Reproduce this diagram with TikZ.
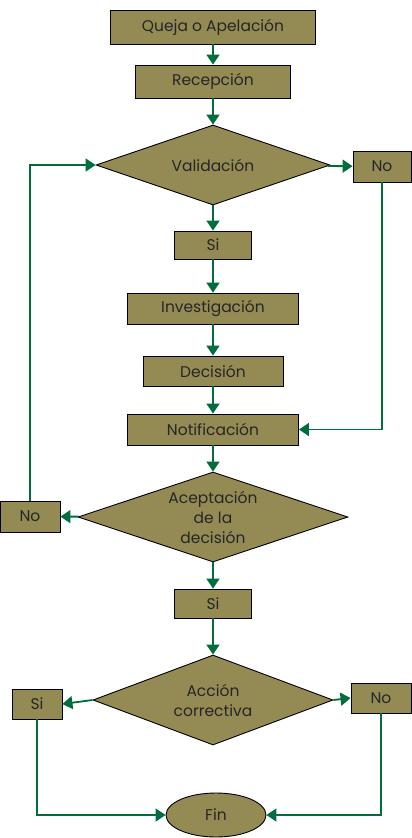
\documentclass[tikz,border=0pt]{standalone}
\usepackage{fontspec}
\setmainfont{Poppins}
\usetikzlibrary{positioning,shapes.geometric,arrows.meta}
\definecolor{olivefill}{HTML}{948A54}
\definecolor{flowgreen}{HTML}{006E3C}
\definecolor{txtgray}{HTML}{262626}
\tikzset{proc/.style={draw=black,line width=0.9pt,fill=olivefill,rectangle,inner sep=0pt,
    text=txtgray,node font=\fontsize{15.5}{19}\selectfont}}
\tikzset{deci/.style={proc,diamond}}
\tikzset{dtext/.style={inner sep=0pt,align=center,text=txtgray,font=\fontsize{15.5}{20}\selectfont}}
\tikzset{term/.style={proc,ellipse}}
\tikzset{flow/.style={draw=flowgreen,line width=1.8pt,-{Triangle[length=10pt,width=13pt]}}}

\begin{document}
\begin{tikzpicture}[on grid,every node/.style={scale=1}]
  \useasboundingbox (0,0) rectangle (412pt,-838pt);

  \node[proc,minimum width=205pt,minimum height=34pt] (queja) at (213pt,-27pt) {Queja o Apelación};
  \node[proc,minimum width=155pt,minimum height=33pt] (recep) [below=54.5pt of queja] {Recepción};
  \node[deci,minimum width=234pt,minimum height=80pt,
    label={[dtext]center:Validación}] (valid) [below=83.5pt of recep] {};
  \node[proc,minimum width=58pt,minimum height=31pt] (no_a) at (382pt,-166.5pt) {No};
  \node[proc,minimum width=77pt,minimum height=28pt] (si_a) [below=80pt of valid] {Si};
  \node[proc,minimum width=171pt,minimum height=31pt] (invest) [below=63.5pt of si_a] {Investigación};
  \node[proc,minimum width=140pt,minimum height=30pt] (decis) [below=62.5pt of invest] {Decisión};
  \node[proc,minimum width=171pt,minimum height=31pt] (notif) [below=58.5pt of decis] {Notificación};
  \node[deci,minimum width=270pt,minimum height=90pt,
    label={[dtext]center:Aceptación\\de la\\decisión}] (acept) [below=87.5pt of notif] {};
  \node[proc,minimum width=60pt,minimum height=31pt] (no_b) at (30pt,-516.5pt) {No};
  \node[proc,minimum width=77pt,minimum height=29pt] (si_b) [below=86.5pt of acept] {Si};
  \node[deci,minimum width=240pt,minimum height=90pt,
    label={[dtext]center:Acción\\correctiva}] (accion) [below=96.5pt of si_b] {};
  \node[proc,minimum width=50pt,minimum height=30pt] (si_c) at (37pt,-704pt) {Si};
  \node[proc,minimum width=60pt,minimum height=30pt] (no_c) at (381pt,-698pt) {No};
  \node[term,minimum width=100pt,minimum height=44pt] (fin) at (216pt,-815pt) {Fin};

  \draw[flow] (queja) -- (recep);
  \draw[flow] (recep) -- (valid);
  \draw[flow] (valid) -- (no_a);
  \draw[flow] (no_a.south) |- (notif.east);
  \draw[flow] (valid) -- (si_a);
  \draw[flow] (si_a) -- (invest);
  \draw[flow] (invest) -- (decis);
  \draw[flow] (decis) -- (notif);
  \draw[flow] (notif) -- (acept);
  \draw[flow] (acept) -- (no_b);
  \draw[flow] (no_b.north) |- (valid.west);
  \draw[flow] (acept) -- (si_b);
  \draw[flow] (si_b) -- (accion);
  \draw[flow] (accion.west) -- (si_c.east);
  \draw[flow] (accion.east) -- (no_c.west);
  \draw[flow] (si_c.south) |- (fin.west);
  \draw[flow] (no_c.south) |- (fin.east);
\end{tikzpicture}
\end{document}
